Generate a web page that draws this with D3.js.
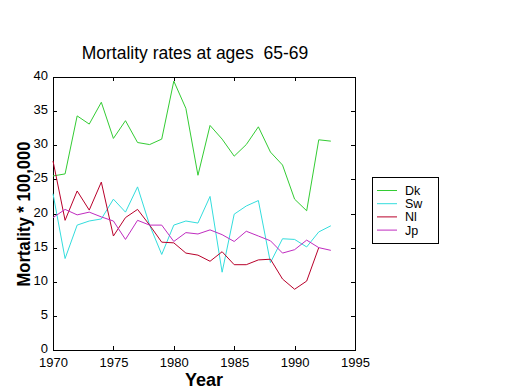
<!DOCTYPE html>
<html>
<head>
<meta charset="utf-8">
<script src="https://cdn.jsdelivr.net/npm/d3@7"></script>
<style>
  body { margin: 0; background: #fff; }
  svg { display: block; }
  .axis text { font-family: Arial, "Liberation Sans", sans-serif; font-size: 13px; fill: #000; }
  .axis path, .axis line { stroke: #000; shape-rendering: crispEdges; }
</style>
</head>
<body>
<div class="chart"></div>
<script>
// years 1970..1993
var years = d3.range(1970, 1994);

var dk = [25.5, 25.8, 34.3, 33.1, 36.3, 31.0, 33.6, 30.4, 30.1, 30.9, 39.4, 35.4,
          25.6, 32.9, 30.9, 28.4, 30.1, 32.7, 29.0, 27.1, 22.1, 20.4, 30.8, 30.6];
var sw = [22.9, 13.4, 18.3, 18.9, 19.2, 22.1, 20.2, 23.9, 18.3, 14.0, 18.3, 18.9,
          18.6, 22.5, 11.4, 19.9, 21.1, 21.9, 12.8, 16.3, 16.2, 15.1, 17.3, 18.2];
var nl = [27.7, 19.0, 23.3, 20.5, 24.6, 16.7, 19.4, 20.6, 18.3, 15.8, 15.7, 14.2,
          13.9, 13.0, 14.4, 12.5, 12.5, 13.2, 13.3, 10.4, 8.9, 10.1, 15.0];
var jp = [19.4, 20.6, 19.8, 20.2, 19.5, 18.9, 16.2, 19.0, 18.3, 18.3, 15.9, 17.2,
          17.0, 17.6, 16.9, 15.9, 17.4, 16.7, 16.0, 14.2, 14.7, 16.1, 15.0, 14.6];

var seriesNames = ["Dk", "Sw", "Nl", "Jp"];
var seriesValues = [dk, sw, nl, jp];
var seriesColors = ["#33cc33", "#33dddd", "#b8002a", "#c02cc0"];

var xTicks = [1970, 1975, 1980, 1985, 1990, 1995];
var yTicks = [0, 5, 10, 15, 20, 25, 30, 35, 40];

var chart_width = 520;
var chart_height = 390;

var x = d3.scaleLinear().domain([1970, 1995]).range([53, 355]);
var y = d3.scaleLinear().domain([0, 40]).range([350, 77]);

var svg = d3.select('.chart')
  .append('svg')
  .attr('width', chart_width)
  .attr('height', chart_height);

// frame
svg.append('rect')
  .attr('x', x(1970)).attr('y', y(40))
  .attr('width', x(1995) - x(1970)).attr('height', y(0) - y(40))
  .attr('fill', 'none').attr('stroke', '#000')
  .attr('shape-rendering', 'crispEdges');

// axes, ticks pointing inward
svg.append('g').attr('class', 'axis')
  .attr('transform', `translate(0,${y(0)})`)
  .call(d3.axisBottom(x).tickValues(xTicks).tickFormat(d3.format('d')).tickSizeInner(-4).tickSizeOuter(0).tickPadding(8));
svg.append('g').attr('class', 'axis')
  .attr('transform', `translate(0,${y(40)})`)
  .call(d3.axisTop(x).tickValues(xTicks).tickFormat('').tickSizeInner(-4).tickSizeOuter(0));
svg.append('g').attr('class', 'axis y-left')
  .attr('transform', `translate(${x(1970)},0)`)
  .call(d3.axisLeft(y).tickValues(yTicks).tickSizeInner(-4).tickSizeOuter(0).tickPadding(5));
svg.append('g').attr('class', 'axis')
  .attr('transform', `translate(${x(1995)},0)`)
  .call(d3.axisRight(y).tickValues(yTicks).tickFormat('').tickSizeInner(-4).tickSizeOuter(0));

svg.selectAll('.axis .domain').remove();
svg.selectAll('.y-left text').attr('dy', '0.2em');

// lines
var line = d3.line()
  .x(function (d, i) { return x(years[i]); })
  .y(function (d) { return y(d); });

svg.selectAll('.series')
  .data(seriesValues)
  .enter()
  .append('path')
  .attr('class', 'series')
  .attr('d', line)
  .attr('fill', 'none')
  .attr('stroke', function (d, i) { return seriesColors[i]; })
  .attr('stroke-width', 1);

// title and labels
svg.append('text')
  .attr('x', 195).attr('y', 59)
  .attr('text-anchor', 'middle')
  .attr('font-family', 'Arial, "Liberation Sans", sans-serif')
  .attr('font-size', '17.5px')
  .style('white-space', 'pre')
  .text('Mortality rates at ages  65-69');

svg.append('text')
  .attr('x', 204).attr('y', 386)
  .attr('text-anchor', 'middle')
  .attr('font-family', 'Arial, "Liberation Sans", sans-serif')
  .attr('font-size', '18px')
  .attr('font-weight', 'bold')
  .text('Year');

svg.append('text')
  .attr('transform', 'translate(30,214) rotate(-90)')
  .attr('text-anchor', 'middle')
  .attr('font-family', 'Arial, "Liberation Sans", sans-serif')
  .attr('font-size', '18px')
  .attr('font-weight', 'bold')
  .attr('textLength', 145)
  .attr('lengthAdjust', 'spacingAndGlyphs')
  .text('Mortality * 100,000');

// legend
var legend = svg.append('g').attr('transform', 'translate(372,177)');
legend.append('rect')
  .attr('width', 66).attr('height', 66)
  .attr('fill', '#fff').attr('stroke', '#000')
  .attr('shape-rendering', 'crispEdges');

var items = legend.selectAll('.item')
  .data(seriesNames)
  .enter()
  .append('g')
  .attr('transform', function (d, i) { return `translate(0,${13.5 + i * 13.2})`; });

items.append('line')
  .attr('x1', 5).attr('x2', 25)
  .attr('stroke', function (d, i) { return seriesColors[i]; });

items.append('text')
  .attr('x', 33).attr('y', 4.5)
  .attr('font-family', 'Arial, "Liberation Sans", sans-serif')
  .attr('font-size', '12.5px')
  .text(function (d) { return d; });
</script>
</body>
</html>
